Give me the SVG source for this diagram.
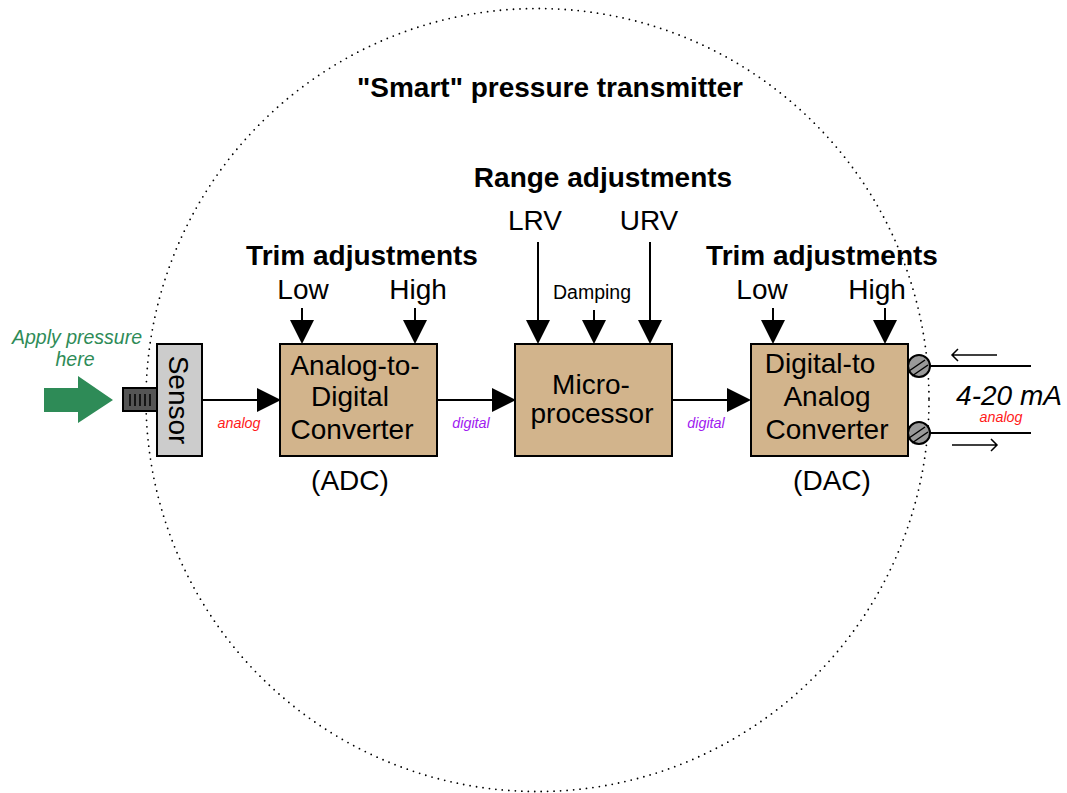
<svg xmlns="http://www.w3.org/2000/svg" width="1067" height="793" viewBox="0 0 1067 793">
<style>
text{font-family:"Liberation Sans",Arial,sans-serif;fill:#000}
.m{text-anchor:middle}
.t{font-size:28px}
.h{font-size:28px;font-weight:bold}
.s{font-size:19.5px}
.g{font-size:19.5px;font-style:italic;fill:#2e8b57}
.red{font-size:14.3px;font-style:italic;fill:#ff1a1a}
.pur{font-size:14.3px;font-style:italic;fill:#a020f0}
.box rect{fill:#d2b48c;stroke:#000;stroke-width:2}
.w{stroke:#000;stroke-width:2;fill:none}
.n{stroke:#000;stroke-width:1.5;fill:none}
.screw circle{fill:#999;stroke:#000;stroke-width:2}
.screw path{stroke:#000;stroke-width:1.5;fill:none}
</style>
<defs>
<polygon id="ah" points="-12,-24 12,-24 0,0" fill="#000"/>
<polygon id="ar" points="-24,-12 0,0 -24,12" fill="#000"/>
</defs>
<circle id="boundary" cx="537.5" cy="400" r="391.5" fill="none" stroke="#000" stroke-width="1.8" stroke-dasharray="0 6.5" stroke-linecap="round"/>
<text class="h m" x="550" y="97">"Smart" pressure transmitter</text>
<text class="h m" x="603" y="187">Range adjustments</text>
<text class="h m" x="362" y="265">Trim adjustments</text>
<text class="h m" x="822" y="265">Trim adjustments</text>
<g id="connectors">
<path class="w" d="M202 400H258M437 400H493M672 400H728M538 242V320M650 242V320M594 310V320M302 308V320M415 308V320M773 308V320M885 308V320M929 366H1031M929 433H1031"/>
<path class="n" d="M997 355H952M958 349L952 355L958 361M952 445H997M991 439L997 445L991 451"/>
<use href="#ar" x="281" y="400"/><use href="#ar" x="516" y="400"/><use href="#ar" x="751" y="400"/>
<use href="#ah" x="302" y="344"/><use href="#ah" x="415" y="344"/><use href="#ah" x="538" y="344"/><use href="#ah" x="594" y="344"/><use href="#ah" x="650" y="344"/><use href="#ah" x="773" y="344"/><use href="#ah" x="885" y="344"/>
</g>
<g id="pressure-arrow">
<polygon points="44,388 78,388 78,376 113,400 78,423 78,412 44,412" fill="#2e8b57"/>
<text class="g m" x="77" y="344">Apply pressure</text>
<text class="g m" x="75" y="366">here</text>
</g>
<g id="port">
<rect x="123" y="388" width="34" height="23" fill="#555" stroke="#000" stroke-width="2"/>
<path d="M130 394V406M135 394V406M140 394V406M145 394V406M150 394V406" stroke="#000" stroke-width="1.5"/>
</g>
<g id="sensor">
<rect x="157" y="344" width="45" height="112" fill="#ccc" stroke="#000" stroke-width="2"/>
<text class="t m" transform="translate(169 400) rotate(90)">Sensor</text>
</g>
<g id="adc" class="box">
<rect x="280" y="344" width="157" height="112"/>
<text class="t m" x="355" y="375">Analog-to-</text>
<text class="t m" x="350" y="406">Digital</text>
<text class="t m" x="352" y="439">Converter</text>
</g>
<g id="microprocessor" class="box">
<rect x="515" y="344" width="157" height="112"/>
<text class="t m" x="591" y="394">Micro-</text>
<text class="t m" x="592" y="423">processor</text>
</g>
<g id="dac" class="box">
<rect x="751" y="344" width="157" height="112"/>
<text class="t m" x="820" y="373">Digital-to</text>
<text class="t m" x="827" y="406">Analog</text>
<text class="t m" x="827" y="439">Converter</text>
</g>
<g id="terminal-top" class="screw">
<circle cx="919" cy="366" r="11"/>
<path d="M909 371L925 360M912 376L928 365"/>
</g>
<g id="terminal-bottom" class="screw">
<circle cx="919" cy="433" r="11"/>
<path d="M909 438L925 427M912 443L928 432"/>
</g>
<g id="labels">
<text class="t m" x="303" y="299">Low</text>
<text class="t m" x="418" y="299">High</text>
<text class="t m" x="535" y="230">LRV</text>
<text class="t m" x="649" y="230">URV</text>
<text class="s m" x="592" y="299">Damping</text>
<text class="t m" x="762" y="299">Low</text>
<text class="t m" x="877" y="299">High</text>
<text class="t m" x="350" y="490">(ADC)</text>
<text class="t m" x="832" y="490">(DAC)</text>
<text class="red m" x="239" y="428">analog</text>
<text class="pur m" x="471" y="428">digital</text>
<text class="pur m" x="706" y="428">digital</text>
<text class="red m" x="1001" y="422">analog</text>
<text class="t m" x="1009" y="405" font-style="italic">4-20 mA</text>
</g>
</svg>
